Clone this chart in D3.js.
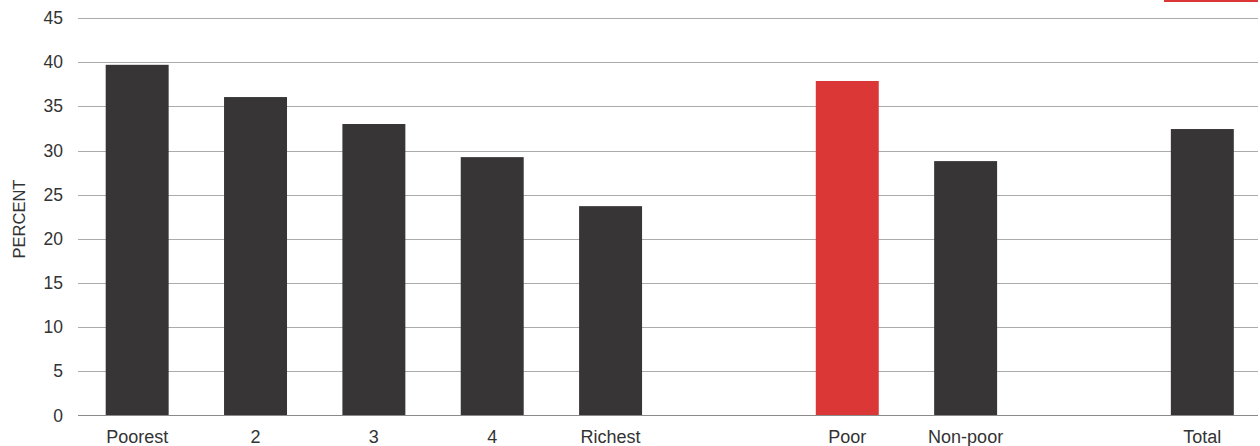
<!DOCTYPE html>
<html><head><meta charset="utf-8">
<script src="https://cdn.jsdelivr.net/npm/d3@7"></script>
<style>body{margin:0;background:#fff}svg{display:block}text{font-family:"Liberation Sans",Arial,sans-serif}</style>
</head><body><div id="c"></div>
<script>
const categories = ["Poorest","2","3","4","Richest","_gap1","Poor","Non-poor","_gap2","Total"];
const values = [39.7,36.05,33.0,29.25,23.7,null,37.87,28.8,null,32.43];
const highlight = ["Poor"];
const yTicks = [0,5,10,15,20,25,30,35,40,45];
const yLabel = "PERCENT";

const W=1260,H=446;
const svg=d3.select("#c").append("svg").attr("width",W).attr("height",H);
const x=d3.scaleBand().domain(categories).range([78,1261.5]).paddingInner(0.468).paddingOuter(0.234);
const y=d3.scaleLinear().domain([0,45]).range([415.5,18]);

// grid
svg.append("g").selectAll("line").data(yTicks.filter(d=>d>0)).join("line")
 .attr("x1",78).attr("x2",1258).attr("y1",d=>Math.round(y(d))+0.5).attr("y2",d=>Math.round(y(d))+0.5)
 .attr("stroke","#ababab").attr("stroke-width",1);
// y tick labels
svg.append("g").selectAll("text").data(yTicks).join("text")
 .attr("x",63).attr("y",d=>y(d)).attr("dy","0.35em").attr("text-anchor","end")
 .attr("font-size",17.5).attr("fill","#333").text(d=>d);
// bars
const data=categories.map((c,i)=>({c,v:values[i]})).filter(d=>d.v!=null);
svg.append("g").selectAll("rect").data(data).join("rect")
 .attr("x",d=>x(d.c)).attr("width",x.bandwidth())
 .attr("y",d=>y(d.v)).attr("height",d=>y(0)-y(d.v))
 .attr("fill",d=>highlight.includes(d.c)?"#dc3737":"#373535");
// baseline
svg.append("line").attr("x1",78).attr("x2",1258).attr("y1",415.5).attr("y2",415.5).attr("stroke","#8a8a8a").attr("stroke-width",1.2);
// x labels
svg.append("g").selectAll("text").data(data).join("text")
 .attr("x",d=>x(d.c)+x.bandwidth()/2).attr("y",443).attr("text-anchor","middle")
 .attr("font-size",18).attr("fill","#333").text(d=>d.c);
// y label
svg.append("text").attr("transform","translate(25,219) rotate(-90)").attr("text-anchor","middle")
 .attr("font-size",16.5).attr("fill","#333").text(yLabel);
// legend swatch (cropped at top)
svg.append("rect").attr("x",1164).attr("y",0).attr("width",94).attr("height",2).attr("fill","#dc3737");
</script></body></html>
